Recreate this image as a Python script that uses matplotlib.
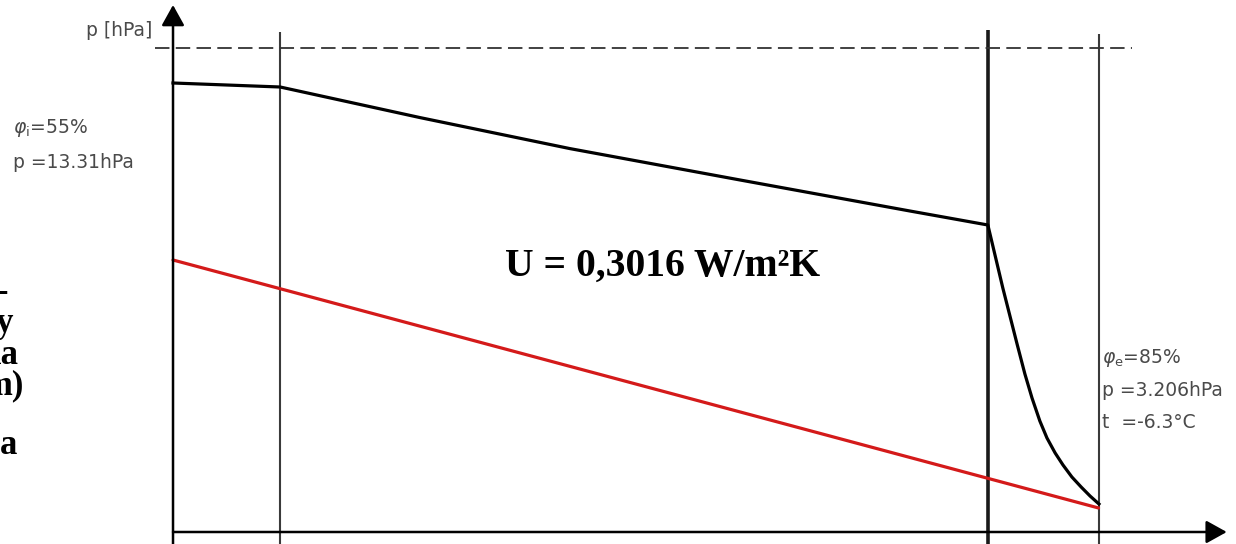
import matplotlib
matplotlib.use('Agg')
import matplotlib.pyplot as plt

# wall cross-section positions (cm) : inner surface, layer joint, layer joint, outer surface
wall_x = [0.0, 3.0, 22.9, 26.0]
wall_top = [25.0, 25.1, 24.9]

# saturation pressure curve (black)
psat_x = [0.0, 3.01, 6.94, 11.15, 15.93, 20.70, 22.89, 23.09, 23.31, 23.51, 23.71, 23.93,
          24.13, 24.35, 24.55, 24.78, 25.0, 25.25, 25.51, 25.76, 26.01]
psat_y = [22.45, 22.25, 20.72, 19.17, 17.6, 16.05, 15.35, 13.85, 12.2, 10.8, 9.4, 7.9,
          6.7, 5.55, 4.7, 3.95, 3.35, 2.75, 2.25, 1.8, 1.4]

# partial vapour pressure (red)
pvap_x = [0.0, 26.0]
pvap_y = [13.6, 1.2]

# upper dashed reference line
ref_y = 24.2
ref_x = [-0.5, 26.95]

U_text = 'U = 0,3016 W/m²K'
inside_labels = [r'$\varphi_{\rm i}$=55%', 'p =13.31hPa']
outside_labels = [r'$\varphi_{\rm e}$=85%', 'p =3.206hPa', 't  =-6.3°C']
side_lines = ['-', 'y', 'la', 'm)', 'a']
side_right = [8, 13, 18, 24, 17]
side_ypx = [293, 324, 355, 386, 446]

W, H = 1236, 544
fig = plt.figure(figsize=(W / 100, H / 100), dpi=100)
ax = fig.add_axes([0, 0, 1, 1])
ax.set_xlim(-4.86, 29.86)
ax.set_ylim(-0.6, 26.6)
ax.axis('off')


def ftext(xp, yp, s, **kw):
    # place text by pixel position in the figure
    fig.text(xp / W, 1 - yp / H, s, **kw)


# axes with arrows
arr = dict(arrowstyle='-|>,head_length=0.9,head_width=0.5', mutation_scale=14,
           lw=1.8, color='black', shrinkA=0, shrinkB=0)
ax.annotate('', xy=(0, 26.35), xytext=(0, -0.6), arrowprops=arr)
ax.annotate('', xy=(29.6, 0), xytext=(0, 0), arrowprops=arr)

# wall layer boundaries
widths = [1.5, 2.6, 1.5]
colors = ['#3a3a3a', '#1a1a1a', '#3a3a3a']
for x, top, w, c in zip(wall_x[1:], wall_top, widths, colors):
    ax.plot([x, x], [-0.6, top], color=c, lw=w, solid_capstyle='butt')

ax.plot(ref_x, [ref_y, ref_y], color='#333333', lw=1.3, linestyle=(0, (8, 3.5)))

ax.plot(pvap_x, pvap_y, color='#d41a1a', lw=2.3, solid_capstyle='round')
ax.plot(psat_x, psat_y, color='black', lw=2.3, solid_joinstyle='round')

ftext(505, 266, U_text, fontsize=28.5, fontweight='bold',
      family='Liberation Serif', ha='left', va='center')

grey = '#4a4a4a'
ftext(152, 30, 'p [hPa]', fontsize=13.5, color=grey, ha='right', va='center')
for s, yp in zip(inside_labels, [128, 163]):
    ftext(13, yp, s, fontsize=13.5, color=grey, va='center')
for s, yp in zip(outside_labels, [358, 390, 422]):
    ftext(1102, yp, s, fontsize=13.5, color=grey, va='center')

for s, xr, yp in zip(side_lines, side_right, side_ypx):
    ftext(xr, yp, s, fontsize=25, fontweight='bold',
          family='Liberation Serif', ha='right', va='center')

fig.savefig('out.png', dpi=100)
